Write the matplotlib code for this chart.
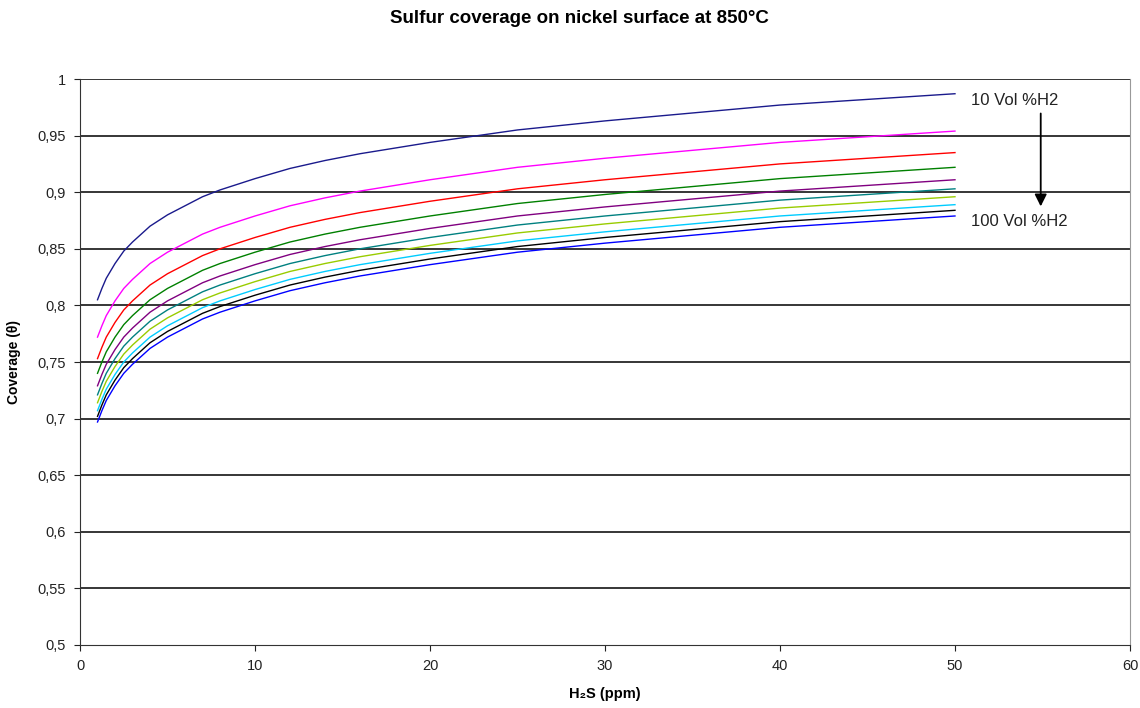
import matplotlib
matplotlib.use("Agg")
import matplotlib.pyplot as plt
from matplotlib.ticker import FuncFormatter

plt.rcParams['font.family'] = ['Liberation Sans', 'DejaVu Sans']

# H2S concentration (ppm)
h2s_ppm = [1, 1.25, 1.5, 2, 2.5, 3, 3.5, 4, 5, 6, 7, 8, 9, 10, 12, 14, 16, 18, 20, 25, 30, 35, 40, 45, 50]

# coverage for 10..100 Vol% H2
cov_10 = [.805, .815, .824, .837, .848, .856, .863, .870, .880, .888, .896, .902, .907, .912, .921, .928, .934, .939, .944, .955, .963, .970, .977, .982, .987]
cov_20 = [.772, .782, .791, .804, .815, .823, .830, .837, .847, .855, .863, .869, .874, .879, .888, .895, .901, .906, .911, .922, .930, .937, .944, .949, .954]
cov_30 = [.753, .763, .772, .785, .796, .804, .811, .818, .828, .836, .844, .850, .855, .860, .869, .876, .882, .887, .892, .903, .911, .918, .925, .930, .935]
cov_40 = [.740, .750, .759, .772, .783, .791, .798, .805, .815, .823, .831, .837, .842, .847, .856, .863, .869, .874, .879, .890, .898, .905, .912, .917, .922]
cov_50 = [.729, .739, .748, .761, .772, .780, .787, .794, .804, .812, .820, .826, .831, .836, .845, .852, .858, .863, .868, .879, .887, .894, .901, .906, .911]
cov_60 = [.721, .731, .740, .753, .764, .772, .779, .786, .796, .804, .812, .818, .823, .828, .837, .844, .850, .855, .860, .871, .879, .886, .893, .898, .903]
cov_70 = [.714, .724, .733, .746, .757, .765, .772, .779, .789, .797, .805, .811, .816, .821, .830, .837, .843, .848, .853, .864, .872, .879, .886, .891, .896]
cov_80 = [.707, .717, .726, .739, .750, .758, .765, .772, .782, .790, .798, .804, .809, .814, .823, .830, .836, .841, .846, .857, .865, .872, .879, .884, .889]
cov_90 = [.702, .712, .721, .734, .745, .753, .760, .767, .777, .785, .793, .799, .804, .809, .818, .825, .831, .836, .841, .852, .860, .867, .874, .879, .884]
cov_100 = [.697, .707, .716, .729, .740, .748, .755, .762, .772, .780, .788, .794, .799, .804, .813, .820, .826, .831, .836, .847, .855, .862, .869, .874, .879]

series = [cov_10, cov_20, cov_30, cov_40, cov_50, cov_60, cov_70, cov_80, cov_90, cov_100]
colors = ['#1a1a8c', '#ff00ff', '#ff0000', '#008000', '#800080',
          '#008080', '#99cc00', '#00ccff', '#000000', '#0000ff']

fig = plt.figure(figsize=(11.4, 7.08), dpi=100)
ax = fig.add_axes([0.0702, 0.089, 0.921, 0.7994])

# horizontal gridlines
for yv in [0.55, 0.6, 0.65, 0.7, 0.75, 0.8, 0.85, 0.9, 0.95, 1.0]:
    ax.axhline(yv, color='black', lw=1.1, zorder=1)

for vals, c in zip(series, colors):
    ax.plot(h2s_ppm, vals, color=c, lw=1.0, zorder=2)

ax.set_xlim(0, 60)
ax.set_ylim(0.5, 1.0)
ax.set_xticks(range(0, 61, 10))
ax.set_yticks([0.5 + 0.05 * i for i in range(11)])
ax.yaxis.set_major_formatter(FuncFormatter(lambda v, p: ('%g' % round(v, 2)).replace('.', ',')))
ax.tick_params(axis='both', direction='out', length=4, labelsize=10.5, colors='#222222', pad=6)

ax.spines['top'].set_visible(False)
ax.spines['right'].set_color('#999999')
ax.spines['left'].set_color('#333333')
ax.spines['bottom'].set_color('#333333')

fig.text(0.508, 0.974, 'Sulfur coverage on nickel surface at 850°C', ha='center', va='center',
         fontsize=13.5, fontweight='semibold')
ax.set_xlabel('H₂S (ppm)', fontsize=10.5, fontweight='bold', labelpad=10)
ax.set_ylabel('Coverage (θ)', fontsize=10, fontweight='bold', labelpad=12)

ax.text(50.9, 0.981, '10 Vol %H2', fontsize=12, ha='left', va='center', color='#222222')
ax.text(50.9, 0.874, '100 Vol %H2', fontsize=12, ha='left', va='center', color='#222222')
ax.annotate('', xy=(54.9, 0.885), xytext=(54.9, 0.972),
            arrowprops=dict(arrowstyle='-|>', color='black', lw=1.3, mutation_scale=18))

fig.savefig('out.png', dpi=100)
